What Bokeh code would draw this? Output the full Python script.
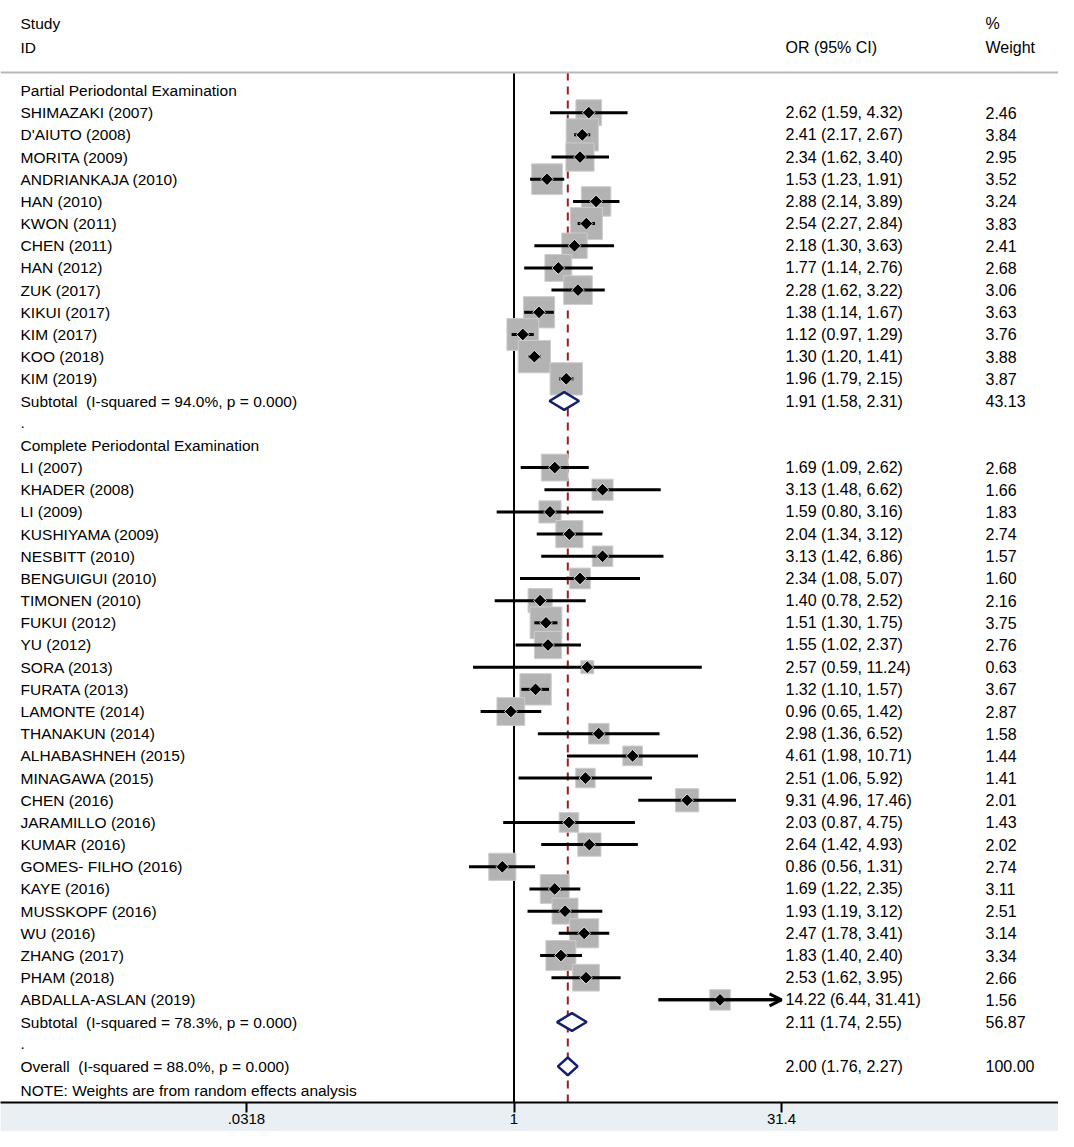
import numpy as np
from bokeh.plotting import figure
from bokeh.models import Range1d, Span, Arrow, OpenHead, FixedTicker, ColumnDataSource
from bokeh.embed import file_html
from bokeh.resources import INLINE
from bokeh.core.properties import value

# ---------------- data ----------------
group1_name = "Partial Periodontal Examination"
group1_studies = ["SHIMAZAKI (2007)", "D'AIUTO (2008)", "MORITA (2009)", "ANDRIANKAJA (2010)",
                  "HAN (2010)", "KWON (2011)", "CHEN (2011)", "HAN (2012)", "ZUK (2017)",
                  "KIKUI (2017)", "KIM (2017)", "KOO (2018)", "KIM (2019)"]
group1_or = [2.62, 2.41, 2.34, 1.53, 2.88, 2.54, 2.18, 1.77, 2.28, 1.38, 1.12, 1.30, 1.96]
group1_lo = [1.59, 2.17, 1.62, 1.23, 2.14, 2.27, 1.30, 1.14, 1.62, 1.14, 0.97, 1.20, 1.79]
group1_hi = [4.32, 2.67, 3.40, 1.91, 3.89, 2.84, 3.63, 2.76, 3.22, 1.67, 1.29, 1.41, 2.15]
group1_w = [2.46, 3.84, 2.95, 3.52, 3.24, 3.83, 2.41, 2.68, 3.06, 3.63, 3.76, 3.88, 3.87]
group1_sub = ("Subtotal  (I-squared = 94.0%, p = 0.000)", 1.91, 1.58, 2.31, 43.13)

group2_name = "Complete Periodontal Examination"
group2_studies = ["LI (2007)", "KHADER (2008)", "LI (2009)", "KUSHIYAMA (2009)", "NESBITT (2010)",
                  "BENGUIGUI (2010)", "TIMONEN (2010)", "FUKUI (2012)", "YU (2012)", "SORA (2013)",
                  "FURATA (2013)", "LAMONTE (2014)", "THANAKUN (2014)", "ALHABASHNEH (2015)",
                  "MINAGAWA (2015)", "CHEN (2016)", "JARAMILLO (2016)", "KUMAR (2016)",
                  "GOMES- FILHO (2016)", "KAYE (2016)", "MUSSKOPF (2016)", "WU (2016)",
                  "ZHANG (2017)", "PHAM (2018)", "ABDALLA-ASLAN (2019)"]
group2_or = [1.69, 3.13, 1.59, 2.04, 3.13, 2.34, 1.40, 1.51, 1.55, 2.57, 1.32, 0.96, 2.98, 4.61,
             2.51, 9.31, 2.03, 2.64, 0.86, 1.69, 1.93, 2.47, 1.83, 2.53, 14.22]
group2_lo = [1.09, 1.48, 0.80, 1.34, 1.42, 1.08, 0.78, 1.30, 1.02, 0.59, 1.10, 0.65, 1.36, 1.98,
             1.06, 4.96, 0.87, 1.42, 0.56, 1.22, 1.19, 1.78, 1.40, 1.62, 6.44]
group2_hi = [2.62, 6.62, 3.16, 3.12, 6.86, 5.07, 2.52, 1.75, 2.37, 11.24, 1.57, 1.42, 6.52, 10.71,
             5.92, 17.46, 4.75, 4.93, 1.31, 2.35, 3.12, 3.41, 2.40, 3.95, 31.41]
group2_w = [2.68, 1.66, 1.83, 2.74, 1.57, 1.60, 2.16, 3.75, 2.76, 0.63, 3.67, 2.87, 1.58, 1.44,
            1.41, 2.01, 1.43, 2.02, 2.74, 3.11, 2.51, 3.14, 3.34, 2.66, 1.56]
group2_sub = ("Subtotal  (I-squared = 78.3%, p = 0.000)", 2.11, 1.74, 2.55, 56.87)

overall = ("Overall  (I-squared = 88.0%, p = 0.000)", 2.00, 1.76, 2.27, 100.00)
note_text = "NOTE: Weights are from random effects analysis"

tick_values = [0.0318, 1, 31.4]
tick_labels = [".0318", "1", "31.4"]

# ---------------- layout constants ----------------
FONT = value("Liberation Sans")
FS = "15.5px"
FS_NUM = "16px"
X0, X1 = -2.8736, 3.0470          # log10 scale, figure spans full width
Y_TOP, Y_BOT = -4.058, 45.627     # row index scale (flipped)
HDR_LINE = -0.81
X_LABEL, X_OR, X_W = -2.7616, 1.5193, 2.6385
AX_MAX = np.log10(tick_values[-1])
BOX_K = 16.4
DIA_H = 0.40


def keep_spaces(s):
    return s.replace("  ", " \u00a0")


# ---------------- build rows ----------------
label_rows = []    # (y, text)
num_rows = []      # (y, text, column x)
studies = dict(y=[], est=[], lo=[], hi=[], hi_clip=[], side=[])
pooled = []        # (y, est, lo, hi)


def fmt(e, l, h):
    return f"{e:.2f} ({l:.2f}, {h:.2f})"


r = 0
for name, labs, ors, los, his, ws, sub in [
        (group1_name, group1_studies, group1_or, group1_lo, group1_hi, group1_w, group1_sub),
        (group2_name, group2_studies, group2_or, group2_lo, group2_hi, group2_w, group2_sub)]:
    label_rows.append((r, name)); r += 1
    for lab, e, l, h, w in zip(labs, ors, los, his, ws):
        label_rows.append((r, lab))
        num_rows.append((r, fmt(e, l, h), X_OR))
        num_rows.append((r, f"{w:.2f}", X_W))
        studies["y"].append(r)
        studies["est"].append(np.log10(e))
        studies["lo"].append(np.log10(l))
        studies["hi"].append(np.log10(h))
        studies["hi_clip"].append(min(np.log10(h), AX_MAX))
        studies["side"].append(BOX_K * np.sqrt(w))
        r += 1
    lab, e, l, h, w = sub
    label_rows.append((r, keep_spaces(lab)))
    num_rows.append((r, fmt(e, l, h), X_OR))
    num_rows.append((r, f"{w:.2f}", X_W))
    pooled.append((r, e, l, h)); r += 1
    label_rows.append((r, ".")); r += 1

lab, e, l, h, w = overall
label_rows.append((r, keep_spaces(lab)))
num_rows.append((r, fmt(e, l, h), X_OR))
num_rows.append((r, f"{w:.2f}", X_W))
pooled.append((r, e, l, h))
note_row = r + 1.1

# ---------------- figure ----------------
p = figure(width=1058, height=1131, x_range=Range1d(X0, X1), y_range=Range1d(Y_BOT, Y_TOP),
           output_backend="svg", toolbar_location=None, y_axis_location=None,
           min_border_left=0, min_border_right=0, min_border_top=0, min_border_bottom=29)
p.outline_line_color = None
p.xgrid.visible = False
p.ygrid.visible = False
p.background_fill_color = "white"
p.border_fill_color = "#e9eff2"

ax = p.xaxis[0]
ax.ticker = FixedTicker(ticks=[float(np.log10(t)) for t in tick_values])
ax.major_label_overrides = {float(np.log10(t)): s for t, s in zip(tick_values, tick_labels)}
ax.axis_line_color = "black"
ax.axis_line_width = 2
ax.major_tick_line_color = "black"
ax.major_tick_line_width = 2
ax.major_tick_in = 0
ax.major_tick_out = 10
ax.minor_tick_line_color = None
ax.major_label_standoff = 1
ax.major_label_text_font = "Liberation Sans"
ax.major_label_text_font_size = "15px"
ax.major_label_text_color = "black"

# header separator
p.add_layout(Span(location=HDR_LINE, dimension="width", line_color="#b8b8b8", line_width=2))

# null line and overall line
p.segment(x0=[0], y0=[HDR_LINE], x1=[0], y1=[Y_BOT], line_color="black", line_width=2)
p.segment(x0=[np.log10(overall[1])], y0=[HDR_LINE], x1=[np.log10(overall[1])], y1=[Y_BOT],
          line_color="#9b1c22", line_width=2, line_dash="8 6")

src = ColumnDataSource(studies)
p.rect(x="est", y="y", width="side", height="side", width_units="screen", height_units="screen",
       source=src, fill_color="#b3b3b3", line_color="#cdcdcd", line_width=1)
p.segment(x0="lo", y0="y", x1="hi_clip", y1="y", source=src, line_color="black", line_width=3)
for y, lo, hi, hc in zip(studies["y"], studies["lo"], studies["hi"], studies["hi_clip"]):
    if hi > hc:
        p.add_layout(Arrow(x_start=lo, y_start=y, x_end=hc, y_end=y, line_width=3, line_color="black",
                           end=OpenHead(size=12, line_width=3, line_color="black")))
p.scatter(x="est", y="y", source=src, marker="square", angle=np.pi / 4, size=9,
          fill_color="black", line_color="white", line_width=0.8)

# pooled diamonds
xs, ys = [], []
for y, e, l, h in pooled:
    xs.append([np.log10(l), np.log10(e), np.log10(h), np.log10(e)])
    ys.append([y, y - DIA_H, y, y + DIA_H])
p.patches(xs=xs, ys=ys, fill_color="white", line_color="#14206e", line_width=2.5)

# texts
p.text(x=[X_LABEL] * len(label_rows), y=[t[0] for t in label_rows], text=[t[1] for t in label_rows],
       text_font=FONT, text_font_size=FS, text_baseline="middle", text_align="left",
       text_color="black")
p.text(x=[t[2] for t in num_rows], y=[t[0] for t in num_rows], text=[t[1] for t in num_rows],
       text_font=FONT, text_font_size=FS_NUM, text_baseline="middle", text_align="left",
       text_color="black")
p.text(x=[X_LABEL, X_LABEL, X_LABEL], y=[-3.02, -1.94, note_row],
       text=["Study", "ID", note_text],
       text_font=FONT, text_font_size=FS, text_baseline="middle", text_align="left",
       text_color="black")
p.text(x=[X_OR, X_W, X_W], y=[-1.94, -3.02, -1.94],
       text=["OR (95% CI)", "%", "Weight"],
       text_font=FONT, text_font_size=FS_NUM, text_baseline="middle", text_align="left",
       text_color="black")

open("out.html", "w").write(file_html(p, INLINE))
